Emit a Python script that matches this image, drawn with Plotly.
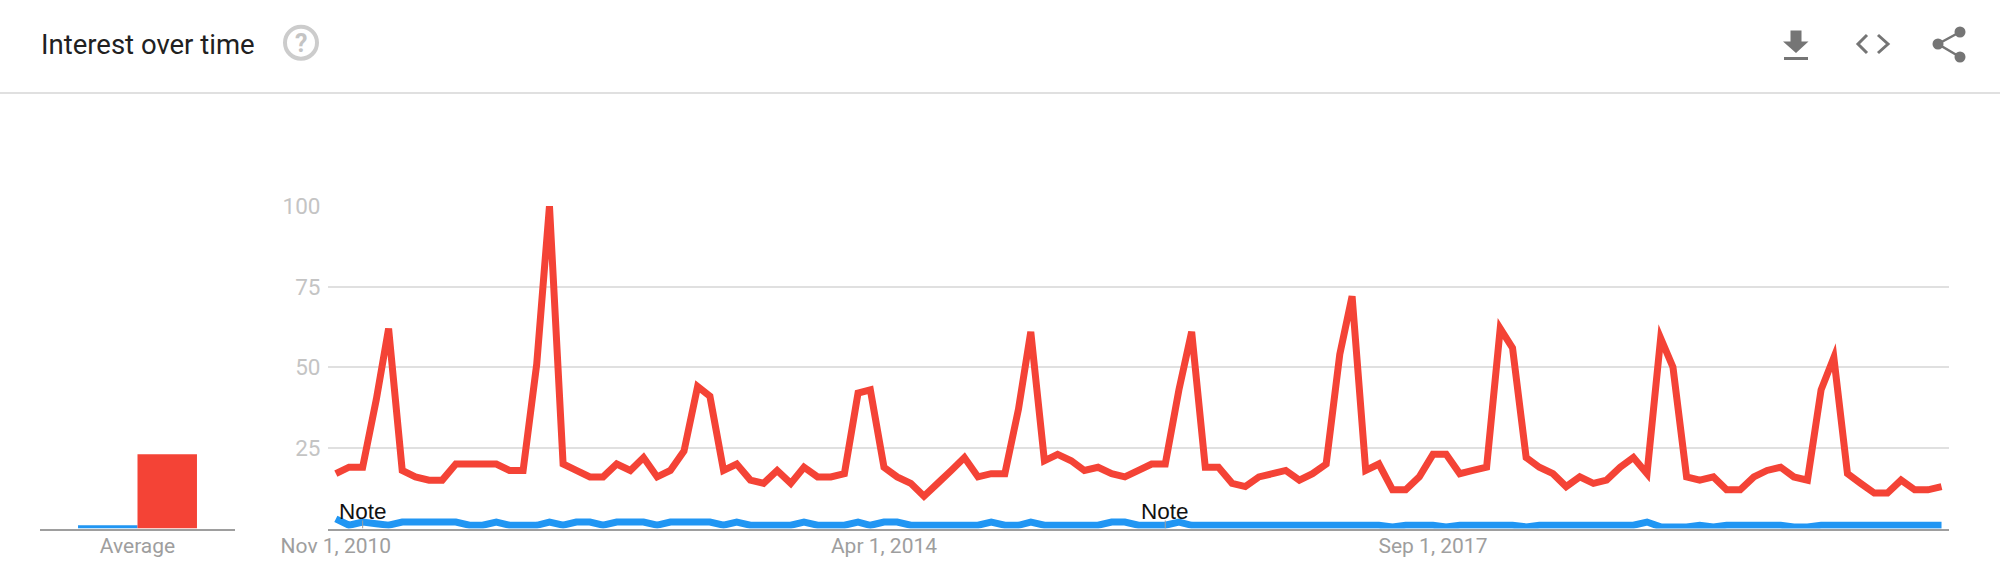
import pandas as pd
import plotly.graph_objects as go

W, H = 2000, 575

months = pd.date_range("2010-11-01", periods=121, freq="MS").strftime("%Y-%m-%d").tolist()
red_values = [
    17, 19, 19, 40, 62, 18, 16, 15, 15, 20, 20, 20, 20, 18, 18, 51, 100, 20, 18, 16,
    16, 20, 18, 22, 16, 18, 24, 44, 41, 18, 20, 15, 14, 18, 14, 19, 16, 16, 17, 42,
    43, 19, 16, 14, 10, 14, 18, 22, 16, 17, 17, 37, 61, 21, 23, 21, 18, 19, 17, 16,
    18, 20, 20, 43, 61, 19, 19, 14, 13, 16, 17, 18, 15, 17, 20, 54, 72, 18, 20, 12,
    12, 16, 23, 23, 17, 18, 19, 62, 56, 22, 19, 17, 13, 16, 14, 15, 19, 22, 17, 59,
    50, 16, 15, 16, 12, 12, 16, 18, 19, 16, 15, 43, 53, 17, 14, 11, 11, 15, 12, 12, 13,
]
blue_values = [
    3, 1, 2, 1.5, 1, 2, 2, 2, 2, 2, 1, 1, 2, 1, 1, 1, 2, 1, 2, 2,
    1, 2, 2, 2, 1, 2, 2, 2, 2, 1, 2, 1, 1, 1, 1, 2, 1, 1, 1, 2,
    1, 2, 2, 1, 1, 1, 1, 1, 1, 2, 1, 1, 2, 1, 1, 1, 1, 1, 2, 2,
    1, 1, 1, 2, 1, 1, 1, 1, 1, 1, 1, 1, 1, 1, 1, 1, 1, 1, 1, 0.5,
    1, 1, 1, 0.5, 1, 1, 1, 1, 1, 0.5, 1, 1, 1, 1, 1, 1, 1, 1, 2, 0.5,
    0.5, 0.5, 1, 0.5, 1, 1, 1, 1, 1, 0.5, 0.5, 1, 1, 1, 1, 1, 1, 1, 1, 1, 1,
]
average_category = ["Average"]
average_blue = [1]
average_red = [23]
y_ticks = [25, 50, 75, 100]
x_tick_dates = ["2010-11-01", "2014-04-01", "2017-09-01"]
x_tick_labels = ["Nov 1, 2010", "Apr 1, 2014", "Sep 1, 2017"]
note_dates = ["2011-01-01", "2016-01-01"]
note_label = "Note"
title_text = "Interest over time"

RED = "#f44336"
BLUE = "#2196f3"
GRID = "#e0e0e0"
AXIS = "#9e9e9e"
ICON = "#757575"


def px(x):
    return x / W


def py(y):
    return 1 - y / H


fig = go.Figure()
fig.add_trace(go.Scatter(x=months, y=blue_values, mode="lines", xaxis="x", yaxis="y",
                         line=dict(color=BLUE, width=7, simplify=False), showlegend=False, name="blue"))
fig.add_trace(go.Scatter(x=months, y=red_values, mode="lines", xaxis="x", yaxis="y",
                         line=dict(color=RED, width=7, simplify=False), showlegend=False, name="red"))
fig.add_trace(go.Bar(x=average_category, y=average_blue, xaxis="x2", yaxis="y2",
                     marker=dict(color=BLUE, line=dict(width=0)), showlegend=False))
fig.add_trace(go.Bar(x=average_category, y=average_red, xaxis="x2", yaxis="y2",
                     marker=dict(color=RED, line=dict(width=0)), showlegend=False))

shapes = [dict(type="line", xref="paper", yref="paper", x0=0, x1=1, y0=py(93), y1=py(93),
               line=dict(color="#e0e0e0", width=2))]
for d in note_dates:
    shapes.append(dict(type="line", xref="x", yref="y", x0=d, x1=d, y0=0, y1=2.5,
                       line=dict(color="#9e9e9e", width=1)))


def path_shape(points, close=False, fill=None, width=0):
    path = "M " + " L ".join(f"{px(x):.5f},{py(y):.5f}" for x, y in points) + (" Z" if close else "")
    return dict(type="path", xref="paper", yref="paper", path=path,
                fillcolor=fill, line=dict(color=ICON, width=width))


def circle(cx, cy, r, fill=None, color=ICON, width=0):
    return dict(type="circle", xref="paper", yref="paper",
                x0=px(cx - r), x1=px(cx + r), y0=py(cy + r), y1=py(cy - r),
                fillcolor=fill, line=dict(color=color, width=width))


# Help icon
shapes.append(circle(301, 42.7, 16, color="#cccccc", width=4))
# Download icon
shapes.append(path_shape([(1790.5, 30.5), (1801.5, 30.5), (1801.5, 41.5), (1808.5, 41.5),
                          (1796, 53), (1783, 41.5), (1790.5, 41.5)], close=True, fill=ICON))
shapes.append(path_shape([(1784, 57), (1808, 57), (1808, 60), (1784, 60)], close=True, fill=ICON))
# Embed icon
shapes.append(path_shape([(1867, 35), (1858, 44), (1867, 53)], width=3))
shapes.append(path_shape([(1878, 35), (1888, 44), (1878, 53)], width=3))
# Share icon
shapes.append(path_shape([(1960, 32), (1938, 44), (1960, 57)], width=2.5))
shapes.append(circle(1960, 32, 5.5, fill=ICON))
shapes.append(circle(1938, 44, 5.5, fill=ICON))
shapes.append(circle(1960, 57, 5.5, fill=ICON))

annotations = [
    dict(text=title_text, xref="paper", yref="paper", x=px(39), y=py(44), xanchor="left", yanchor="middle",
         showarrow=False, font=dict(family="Roboto", size=27.5, color="#212121")),
    dict(text="<b>?</b>", xref="paper", yref="paper", x=px(301), y=py(43), xanchor="center", yanchor="middle",
         showarrow=False, font=dict(family="Roboto", size=25, color="#c4c4c4")),
]
for d in note_dates:
    annotations.append(dict(text=note_label, xref="x", yref="y", x=d, y=5.4, xanchor="center", yanchor="middle",
                            showarrow=False, font=dict(family="Liberation Sans", size=22.5, color="#111111")))

fig.update_layout(
    template="none",
    width=W, height=H, autosize=False,
    margin=dict(l=0, r=0, t=0, b=0, pad=0),
    paper_bgcolor="white", plot_bgcolor="white",
    barmode="group", bargap=0.39, bargroupgap=0,
    hovermode=False,
    shapes=shapes, annotations=annotations,
    xaxis=dict(domain=[px(327.5), px(1949)], type="date", range=["2010-10-13", "2020-11-18"],
               automargin=False, tickmode="array", tickvals=x_tick_dates, ticktext=x_tick_labels,
               showgrid=False, zeroline=False, showline=True, linecolor=AXIS, linewidth=2, ticks="",
               ticklabelstandoff=-3,
               tickfont=dict(family="Roboto", size=21, color="#9e9e9e"), anchor="y"),
    yaxis=dict(domain=[py(528.5), py(206)], range=[0, 100],
               automargin=False, tickmode="array", tickvals=y_ticks,
               showgrid=True, gridcolor=GRID, gridwidth=2, zeroline=False, showline=False, ticks="",
               ticklen=0, ticklabelstandoff=6,
               tickfont=dict(family="Roboto", size=22.5, color="#c4c4c4"), anchor="x"),
    xaxis2=dict(domain=[px(40), px(235)], type="category", range=[-0.5, 0.5], automargin=False,
                showgrid=False, zeroline=False, showline=True, linecolor=AXIS, linewidth=2, ticks="",
                ticklabelstandoff=-3,
                tickfont=dict(family="Roboto", size=21, color="#9e9e9e"), anchor="y2"),
    yaxis2=dict(domain=[py(528.5), py(206)], range=[0, 100], visible=False, anchor="x2", automargin=False),
)

post = """
document.body.style.margin = '0';
document.querySelectorAll('.scatterlayer .js-line').forEach(function (p) {
    p.style.strokeLinejoin = 'miter';
    p.style.strokeMiterlimit = '5.5';
});
"""
fig.write_html("out.html", post_script=post, config={"displayModeBar": False})
